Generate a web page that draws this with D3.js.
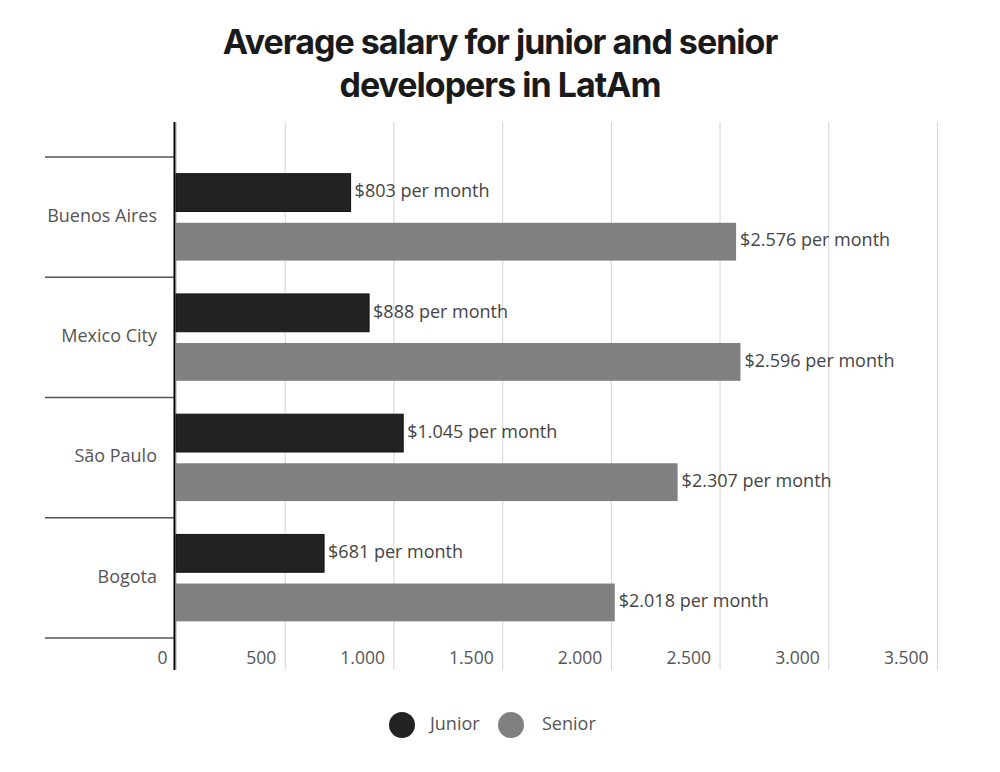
<!DOCTYPE html>
<html>
<head>
<meta charset="utf-8">
<script src="https://cdn.jsdelivr.net/npm/d3@7"></script>
<style>
  body { margin: 0; background: #fff; }
  text { font-family: "Open Sans", sans-serif; }
</style>
</head>
<body>
<svg id="chart"></svg>
<script>
// Data
const cities = ['Buenos Aires', 'Mexico City', 'São Paulo', 'Bogota'];
const series = ['Junior', 'Senior'];
const juniorValues = [803, 888, 1045, 681];
const seniorValues = [2576, 2596, 2307, 2018];
const xTicks = [0, 500, 1000, 1500, 2000, 2500, 3000, 3500];
const titleLines = ['Average salary for junior and senior', 'developers in LatAm'];

const colors = { Junior: '#222222', Senior: '#808080' };

const width = 1000, height = 772;
const plot = { left: 176, right: 937, top: 122, bottom: 670, bandTop: 157, bandBottom: 638 };

// thousands separated with a dot
const locale = d3.formatLocale({ decimal: ',', thousands: '.', grouping: [3], currency: ['$', ''] });
const fmt = locale.format(',d');

const rows = cities.map((c, i) => ({ city: c, Junior: juniorValues[i], Senior: seniorValues[i] }));

const svg = d3.select('#chart')
    .attr('width', width)
    .attr('height', height);

// Title
svg.append('g')
    .selectAll('text')
    .data(titleLines)
  .join('text')
    .attr('x', width / 2)
    .attr('y', (d, i) => 54 + i * 43)
    .attr('text-anchor', 'middle')
    .style('font-family', 'Inter, sans-serif')
    .style('font-weight', 700)
    .style('font-size', '34px')
    .style('letter-spacing', '-1px')
    .attr('fill', '#1a1a1a')
    .text(d => d);

// Scales
const xScale = d3.scaleLinear()
    .domain([0, 3500])
    .range([plot.left, plot.right]);

const yScale = d3.scaleBand()
    .domain(cities)
    .range([plot.bandTop, plot.bandBottom]);

const ySub = d3.scaleBand()
    .domain(series)
    .range([0, yScale.bandwidth()])
    .paddingInner(0.23)
    .paddingOuter(0.34);

// Vertical gridlines + tick labels
const xAxis = d3.axisBottom(xScale)
    .tickValues(xTicks)
    .tickSize(-(plot.bottom - plot.top))
    .tickFormat(fmt);

const xAxisG = svg.append('g')
    .attr('class', 'axis x-axis')
    .attr('transform', `translate(0,${plot.bottom})`)
    .call(xAxis)
    .call(g => g.select('.domain').remove());

xAxisG.selectAll('.tick line')
    .attr('stroke', '#d4d4d4')
    .attr('stroke-width', 1);

xAxisG.selectAll('.tick text')
    .attr('text-anchor', 'end')
    .attr('x', -9)
    .attr('y', -6)
    .attr('dy', 0)
    .attr('fill', '#555')
    .style('font-size', '17.5px');

// Category separators on the left
const bounds = cities.map(c => yScale(c)).concat([plot.bandBottom]);
svg.append('g')
    .selectAll('line')
    .data(bounds)
  .join('line')
    .attr('x1', 45)
    .attr('x2', plot.left - 2)
    .attr('y1', d => d)
    .attr('y2', d => d)
    .attr('stroke', '#555')
    .attr('stroke-width', 1.3);

// Category labels
svg.append('g')
    .selectAll('text')
    .data(cities)
  .join('text')
    .attr('x', 157)
    .attr('y', d => yScale(d) + yScale.bandwidth() / 2)
    .attr('text-anchor', 'end')
    .attr('dominant-baseline', 'middle')
    .attr('fill', '#555')
    .style('font-size', '18px')
    .text(d => d);

// Bars
const groups = svg.append('g')
    .selectAll('.city')
    .data(rows)
  .join('g')
    .attr('class', 'city')
    .attr('transform', d => `translate(0,${yScale(d.city)})`);

const bars = groups.selectAll('.bar')
    .data(d => series.map(s => ({ key: s, value: d[s] })))
  .join('g')
    .attr('class', 'bar');

bars.append('rect')
    .attr('x', xScale(0))
    .attr('y', d => ySub(d.key))
    .attr('width', d => xScale(d.value) - xScale(0))
    .attr('height', ySub.bandwidth())
    .attr('fill', d => colors[d.key])
    .attr('stroke', d => d.key === 'Junior' ? '#111' : 'none')
    .attr('stroke-width', 1);

bars.append('text')
    .attr('x', d => xScale(d.value) + 4)
    .attr('y', d => ySub(d.key) + ySub.bandwidth() / 2)
    .attr('dominant-baseline', 'middle')
    .attr('fill', '#444')
    .style('font-size', '18px')
    .text(d => `$${fmt(d.value)} per month`);

// Y axis line
svg.append('line')
    .attr('x1', xScale(0) - 1.5)
    .attr('x2', xScale(0) - 1.5)
    .attr('y1', plot.top)
    .attr('y2', plot.bottom)
    .attr('stroke', '#000')
    .attr('stroke-width', 2);

// Legend
const legendX = [402, 511];
const legend = svg.append('g')
    .selectAll('g')
    .data(series)
  .join('g')
    .attr('transform', (d, i) => `translate(${legendX[i]},725)`);

legend.append('circle')
    .attr('r', 13)
    .attr('fill', d => colors[d]);

legend.append('text')
    .attr('x', (d, i) => i === 0 ? 28 : 31)
    .attr('dominant-baseline', 'middle')
    .attr('fill', '#555')
    .style('font-size', '18px')
    .text(d => d);
</script>
</body>
</html>
